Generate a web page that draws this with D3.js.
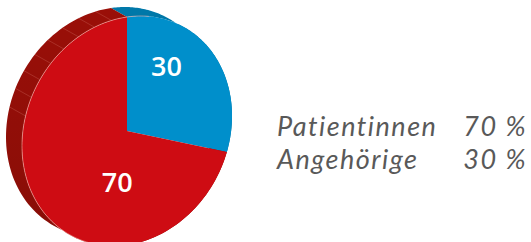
<!DOCTYPE html>
<html>
<head>
<meta charset="utf-8">
<script src="https://cdn.jsdelivr.net/npm/d3@7/dist/d3.min.js"></script>
<style>
  body { margin: 0; background: #fff; }
  svg { display: block; }
  .legend text { font-family: Lato, sans-serif; font-style: italic; fill: #595959; font-size: 27px; letter-spacing: 1.5px; }
  .value-label { font-family: "Open Sans", sans-serif; font-weight: 600; fill: #fff; font-size: 27px; }
</style>
</head>
<body>
<svg width="531" height="242"></svg>
<script>
// data
const labels = ['Patientinnen', 'Angehörige'];
const values = [70, 30];
const colors = ['#ce0c13', '#008fcb'];
const sideColors = ['#9a0f08', '#0078a9'];

const svg = d3.select('svg');

// tilted disc: face ellipse + depth offset
const cx = 127, cy = 131;
const ax = 105, sy = -15, ry = 114;
const depth = [-16, -9];

const proj = (a, r, z) => [
  cx + ax * r * Math.sin(a) + z * depth[0],
  cy + sy * r * Math.sin(a) - ry * r * Math.cos(a) + z * depth[1]
];

const arcPoints = (a0, a1, z) => d3.range(0, 1.0001, 1 / 120)
  .map(t => proj(a0 + (a1 - a0) * t, 1, z));

const line = d3.line();

// blue slice starts at 12 o'clock
const data = labels.map((l, i) => ({ label: l, value: values[i], color: colors[i], side: sideColors[i] }));
const arcs = d3.pie().sort(null).value(d => d.value)(data.slice().reverse());

const g = svg.append('g');

// sides
g.selectAll('path.side').data(arcs)
  .enter().append('path')
  .attr('class', 'side')
  .attr('fill', d => d.data.side)
  .attr('d', d => line(arcPoints(d.startAngle, d.endAngle, 0)
    .concat(arcPoints(d.startAngle, d.endAngle, 1).reverse())) + 'Z');

// shading on the lower part of the side
const defs = svg.append('defs');
const grad = defs.append('linearGradient').attr('id', 'shade')
  .attr('x1', 0).attr('y1', 0).attr('x2', 0).attr('y2', 1);
grad.append('stop').attr('offset', '0%').attr('stop-color', '#000').attr('stop-opacity', 0);
grad.append('stop').attr('offset', '100%').attr('stop-color', '#000').attr('stop-opacity', 0.12);
g.append('path')
  .attr('fill', 'url(#shade)')
  .attr('d', line(arcPoints(0, 2 * Math.PI, 0).concat(arcPoints(0, 2 * Math.PI, 1).reverse())) + 'Z');

// segment lines on the upper-left side
const segAngles = d3.range(285, 360, 9.5).map(a => a * Math.PI / 180);
g.selectAll('line.seg').data(segAngles)
  .enter().append('line')
  .attr('class', 'seg')
  .attr('stroke', '#d87a6e')
  .attr('stroke-opacity', 0.5)
  .attr('stroke-width', 0.6)
  .attr('x1', a => proj(a, 1, 0)[0]).attr('y1', a => proj(a, 1, 0)[1])
  .attr('x2', a => proj(a, 1, 1)[0]).attr('y2', a => proj(a, 1, 1)[1]);

// faces
g.selectAll('path.face').data(arcs)
  .enter().append('path')
  .attr('class', 'face')
  .attr('fill', d => d.data.color)
  .attr('d', d => line([proj(0, 0, 0)].concat(arcPoints(d.startAngle, d.endAngle, 0))) + 'Z');

// thin light rim on the front edge
g.append('path')
  .attr('fill', 'none')
  .attr('stroke', '#f3b0a8')
  .attr('stroke-width', 0.6)
  .attr('d', line(arcPoints(200 * Math.PI / 180, 372 * Math.PI / 180, 0)));

// value labels
const labelR = { 'Angehörige': 0.64, 'Patientinnen': 0.45 };
g.selectAll('text.value-label').data(arcs)
  .enter().append('text')
  .attr('class', 'value-label')
  .attr('text-anchor', 'middle')
  .attr('dy', '0.36em')
  .attr('transform', d => {
    const a = d.startAngle + (d.endAngle - d.startAngle) / 3;
    const p = proj(a, labelR[d.data.label], 0);
    return `translate(${p[0]},${p[1]})`;
  })
  .text(d => d.value);

// legend
const legend = svg.append('g').attr('class', 'legend');
const rows = legend.selectAll('g').data(data)
  .enter().append('g')
  .attr('transform', (d, i) => `translate(0,${136 + i * 33})`);
rows.append('text').attr('x', 277).text(d => d.label);
rows.append('text').attr('x', 527).attr('text-anchor', 'end').text(d => d.value + ' %');
</script>
</body>
</html>
